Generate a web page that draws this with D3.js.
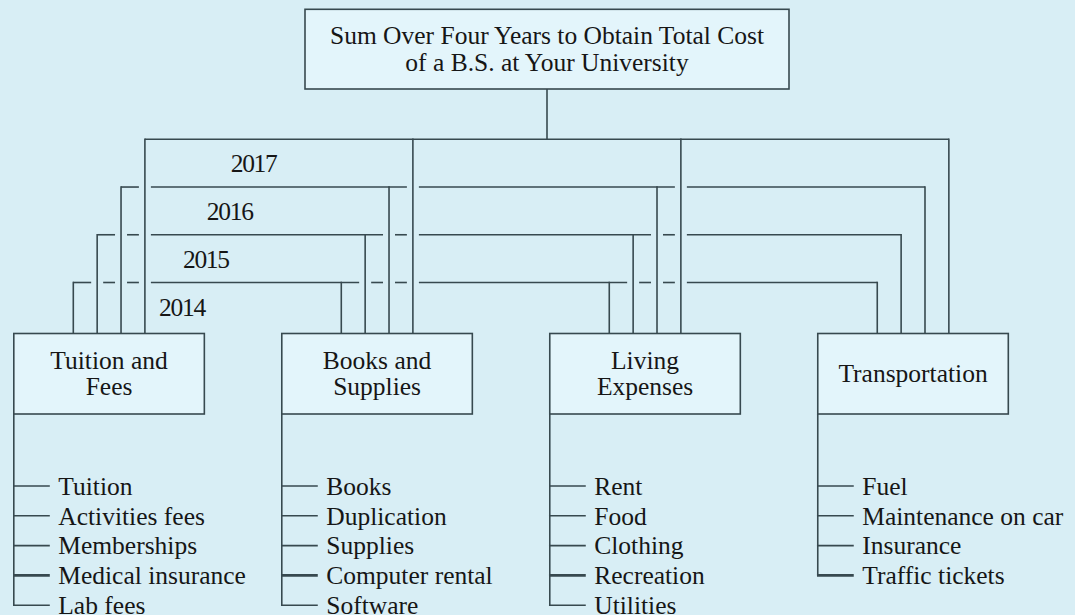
<!DOCTYPE html>
<html>
<head>
<meta charset="utf-8">
<script src="https://cdn.jsdelivr.net/npm/d3@7"></script>
<style>
body{margin:0;background:#d8eef5;}
svg{display:block;}
text{font-family:"Liberation Serif","Times New Roman",serif;font-size:25.5px;fill:#161616;}
.ln{stroke:#37494f;stroke-width:1.6;fill:none;}
.box{stroke:#37494f;stroke-width:1.6;fill:#e3f5fb;}
.year{letter-spacing:-1.3px;}
</style>
</head>
<body>
<svg></svg>
<script>
var titleLines = ["Sum Over Four Years to Obtain Total Cost","of a B.S. at Your University"];
var categories = ["Tuition and Fees","Books and Supplies","Living Expenses","Transportation"];
var boxLabels = [["Tuition and","Fees"],["Books and","Supplies"],["Living","Expenses"],["Transportation"]];
var years = [2014,2015,2016,2017];
var tuitionItems = ["Tuition","Activities fees","Memberships","Medical insurance","Lab fees"];
var booksItems = ["Books","Duplication","Supplies","Computer rental","Software"];
var livingItems = ["Rent","Food","Clothing","Recreation","Utilities"];
var transportItems = ["Fuel","Maintenance on car","Insurance","Traffic tickets"];
var itemLists = [tuitionItems,booksItems,livingItems,transportItems];

var screenDim = {width:1075,height:615}
var topBox = {left:305,right:789,top:9.3,bottom:89}
var boxes = {top:333.5,bottom:414}

var svg = d3.select("svg")
    .attr("width",screenDim.width)
    .attr("height",screenDim.height)

var xBox = d3.scaleBand()
    .domain(categories)
    .range([13.8,1008.3])
    .paddingInner(0.289)
    .paddingOuter(0)
var yearOffset = d3.scaleLinear()
    .domain([2014,2017])
    .range([59.5,131.1])
var yearY = d3.scaleLinear()
    .domain([2014,2017])
    .range([282.5,139.3])
var itemY = d3.scaleLinear()
    .domain([0,4])
    .range([486,605.2])

var vx = function(cat,year)
{
    return xBox(cat)+yearOffset(year);
}

var drawConnectors = function()
{
    var g = svg.append("g")
    var gap = 6;
    years.forEach(function(year)
    {
        var x0 = vx(categories[0],year);
        var x1 = vx(categories[categories.length-1],year);
        var cuts = [];
        categories.forEach(function(cat)
        {
            years.forEach(function(other)
            {
                var x = vx(cat,other);
                if(other>year && x>x0 && x<x1)
                {
                    cuts.push(x);
                }
            })
        })
        cuts.sort(function(a,b){return a-b;});
        var segs = [];
        var start = x0;
        cuts.forEach(function(c)
        {
            segs.push([start,c-gap]);
            start = c+gap;
        })
        segs.push([start,x1]);
        g.selectAll(null)
            .data(segs)
            .enter()
            .append("line")
            .attr("class","ln")
            .attr("x1",function(s){return s[0];})
            .attr("x2",function(s){return s[1];})
            .attr("y1",yearY(year))
            .attr("y2",yearY(year))

        g.selectAll(null)
            .data(categories)
            .enter()
            .append("line")
            .attr("class","ln")
            .attr("x1",function(cat){return vx(cat,year);})
            .attr("x2",function(cat){return vx(cat,year);})
            .attr("y1",yearY(year)-0.8)
            .attr("y2",boxes.top)
    })

    g.append("line")
        .attr("class","ln")
        .attr("x1",(topBox.left+topBox.right)/2)
        .attr("x2",(topBox.left+topBox.right)/2)
        .attr("y1",topBox.bottom)
        .attr("y2",yearY(2017))

    g.selectAll("text")
        .data(years)
        .enter()
        .append("text")
        .attr("class","year")
        .attr("x",function(year){return vx(categories[0],year)+85.8;})
        .attr("y",function(year){return yearY(year)+33;})
        .text(function(year){return year;})
}

var drawBoxes = function()
{
    svg.append("rect")
        .attr("class","box")
        .attr("x",topBox.left)
        .attr("y",topBox.top)
        .attr("width",topBox.right-topBox.left)
        .attr("height",topBox.bottom-topBox.top)
    var cy = (topBox.top+topBox.bottom)/2;
    svg.append("g")
        .selectAll("text")
        .data(titleLines)
        .enter()
        .append("text")
        .attr("text-anchor","middle")
        .attr("x",(topBox.left+topBox.right)/2)
        .attr("y",function(d,i){return cy+(i-0.5)*27+8.5;})
        .text(function(d){return d;})

    var boxG = svg.selectAll(".catBox")
        .data(categories)
        .enter()
        .append("g")
        .attr("class","catBox")
    boxG.append("rect")
        .attr("class","box")
        .attr("x",function(cat){return xBox(cat);})
        .attr("y",boxes.top)
        .attr("width",xBox.bandwidth())
        .attr("height",boxes.bottom-boxes.top)
    var bcy = (boxes.top+boxes.bottom)/2;
    boxG.each(function(cat,ci)
    {
        var lines = boxLabels[ci];
        d3.select(this)
            .selectAll("text")
            .data(lines)
            .enter()
            .append("text")
            .attr("text-anchor","middle")
            .attr("x",xBox(cat)+xBox.bandwidth()/2)
            .attr("y",function(d,i){return bcy+(i-(lines.length-1)/2)*26+8.5;})
            .text(function(d){return d;})
    })
}

var drawItems = function()
{
    categories.forEach(function(cat,ci)
    {
        var items = itemLists[ci];
        var x = xBox(cat);
        var g = svg.append("g")
        g.append("line")
            .attr("class","ln")
            .attr("x1",x)
            .attr("x2",x)
            .attr("y1",boxes.bottom)
            .attr("y2",itemY(items.length-1))
        g.selectAll("line.tick")
            .data(items)
            .enter()
            .append("line")
            .attr("class","ln tick")
            .attr("x1",x-0.8)
            .attr("x2",x+36)
            .attr("y1",function(d,i){return itemY(i);})
            .attr("y2",function(d,i){return itemY(i);})
            .style("stroke-width",function(d,i){return i==3?2.6:1.6;})
        g.selectAll("text")
            .data(items)
            .enter()
            .append("text")
            .attr("x",x+44.5)
            .attr("y",function(d,i){return itemY(i)+8.8;})
            .text(function(d){return d;})
    })
}

drawConnectors();
drawBoxes();
drawItems();
</script>
</body>
</html>
